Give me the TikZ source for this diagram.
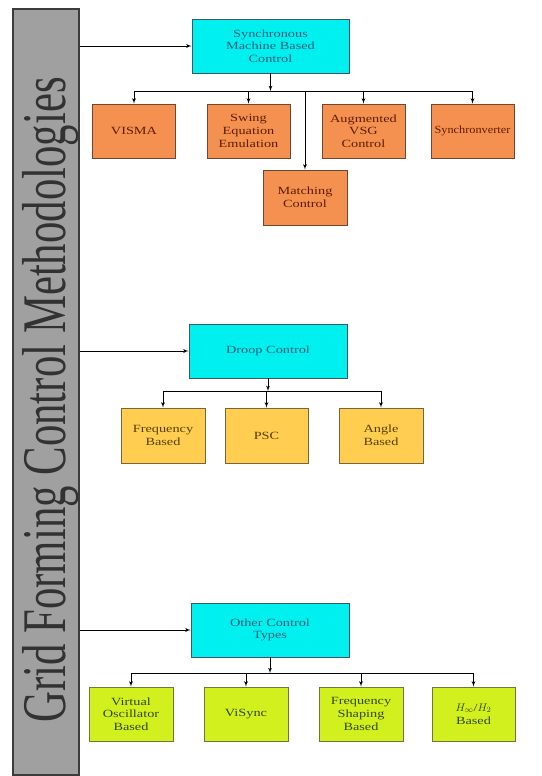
\documentclass[tikz,border=0pt]{standalone}
\usepackage{fontspec}
\setmainfont{Liberation Serif}[FakeStretch=1.3]
\newfontfamily\titlefont{Liberation Serif}
\usetikzlibrary{arrows}
\usepackage{xcolor}
\definecolor{barfill}{RGB}{160,160,160}
\definecolor{bardraw}{RGB}{60,60,60}
\definecolor{cyanfill}{RGB}{0,240,240}
\definecolor{cyandraw}{RGB}{60,90,100}
\definecolor{cyantext}{RGB}{25,95,120}
\definecolor{orangefill}{RGB}{245,145,80}
\definecolor{orangedraw}{RGB}{110,70,50}
\definecolor{orangetext}{RGB}{95,30,0}
\definecolor{yellowfill}{RGB}{255,205,80}
\definecolor{yellowdraw}{RGB}{120,100,60}
\definecolor{yellowtext}{RGB}{85,65,0}
\definecolor{greenfill}{RGB}{210,240,30}
\definecolor{greendraw}{RGB}{110,120,60}
\definecolor{greentext}{RGB}{50,75,0}

\begin{document}
\begin{tikzpicture}[x=1pt,y=-1pt]
			\tikzset{box/.style = {shape=rectangle,draw,line width=0.9pt,
					inner sep=0pt,align=center,
					font=\fontsize{11}{12.7}\selectfont}}
			\tikzset{parent/.style = {box,fill=cyanfill,draw=cyandraw,text=cyantext,
					minimum width=157pt,minimum height=54pt,text width=150pt}}
			\tikzset{smchild/.style = {box,fill=orangefill,draw=orangedraw,text=orangetext,
					minimum width=83pt,minimum height=54pt,text width=80pt}}
			\tikzset{droopchild/.style = {box,fill=yellowfill,draw=yellowdraw,text=yellowtext,
					minimum width=84pt,minimum height=55pt,text width=80pt}}
			\tikzset{otherchild/.style = {box,fill=greenfill,draw=greendraw,text=greentext,
					minimum width=84pt,minimum height=54pt,text width=80pt}}
			\tikzset{edge/.style = {->,> = latex',line width=0.8pt}}
			\tikzset{bus/.style = {line width=0.8pt}}
			\useasboundingbox (0,0) rectangle (541,776);
			% side bar
			\node[draw=bardraw,fill=barfill,line width=1.5pt,
				minimum width=66pt,minimum height=766pt,inner sep=0pt] (bar) at (46,392) {};
			\node[rotate=90,text={rgb,255:red,50;green,50;blue,50},inner sep=0pt] (title) at (51,400)
				{\titlefont\fontsize{42.8}{44}\selectfont\scalebox{1}[1.45]{Grid Forming Control Methodologies}};
			
			% synchronous machine branch
			\node[parent] (sm) at (270.5,46) {Synchronous\\Machine Based\\Control};
			\node[smchild] (visma) at (134,131) {VISMA};
			\node[smchild] (swing) at (248.5,131) {Swing\\Equation\\Emulation};
			\node[smchild] (avsg) at (363.5,131) {Augmented\\VSG\\Control};
			\node[smchild] (synch) at (472.5,131) {\scalebox{0.86}[1]{Synchronverter}};
			\node[smchild,minimum width=84pt,minimum height=55pt] (match) at (305,197.5) {Matching\\Control};
			
			% droop branch
			\node[parent,minimum width=158pt] (droop) at (268,351) {Droop Control};
			\node[droopchild] (freq) at (163,435.5) {Frequency\\Based};
			\node[droopchild,minimum width=83pt] (psc) at (266.5,435.5) {PSC};
			\node[droopchild] (angle) at (381,435.5) {Angle\\Based};
			
			% other branch
			\node[parent,minimum width=158pt] (other) at (270,630) {Other Control\\Types};
			\node[otherchild] (vo) at (131,714) {Virtual\\Oscillator\\Based};
			\node[otherchild] (visync) at (246,714) {ViSync};
			\node[otherchild] (fs) at (361,714) {Frequency\\Shaping\\Based};
			\node[otherchild,minimum width=83pt] (hinf) at (473.5,714) {$H_\infty$/$H_2$\\Based};
			
			% bus points
			\coordinate (smbus) at (0,91);
			\coordinate (droopbus) at (0,391);
			\coordinate (otherbus) at (0,673);
			
			%edges
			\draw[edge] (bar.east |- sm.west) to (sm.west);
			\draw[edge] (bar.east |- droop.west) to (droop.west);
			\draw[edge] (bar.east |- other.west) to (other.west);
			
			\draw[edge] (sm.south) to (sm.south |- smbus);
			\draw[bus] (visma.north |- smbus) to (synch.north |- smbus);
			\foreach \n in {visma,swing,avsg,synch,match}
				\draw[edge] (\n.north |- smbus) to (\n.north);
			
			\draw[edge] (droop.south) to (droop.south |- droopbus);
			\draw[bus] (freq.north |- droopbus) to (angle.north |- droopbus);
			\foreach \n in {freq,psc,angle}
				\draw[edge] (\n.north |- droopbus) to (\n.north);
			
			\draw[edge] (other.south) to (other.south |- otherbus);
			\draw[bus] (vo.north |- otherbus) to (hinf.north |- otherbus);
			\foreach \n in {vo,visync,fs,hinf}
				\draw[edge] (\n.north |- otherbus) to (\n.north);
\end{tikzpicture}
\end{document}
